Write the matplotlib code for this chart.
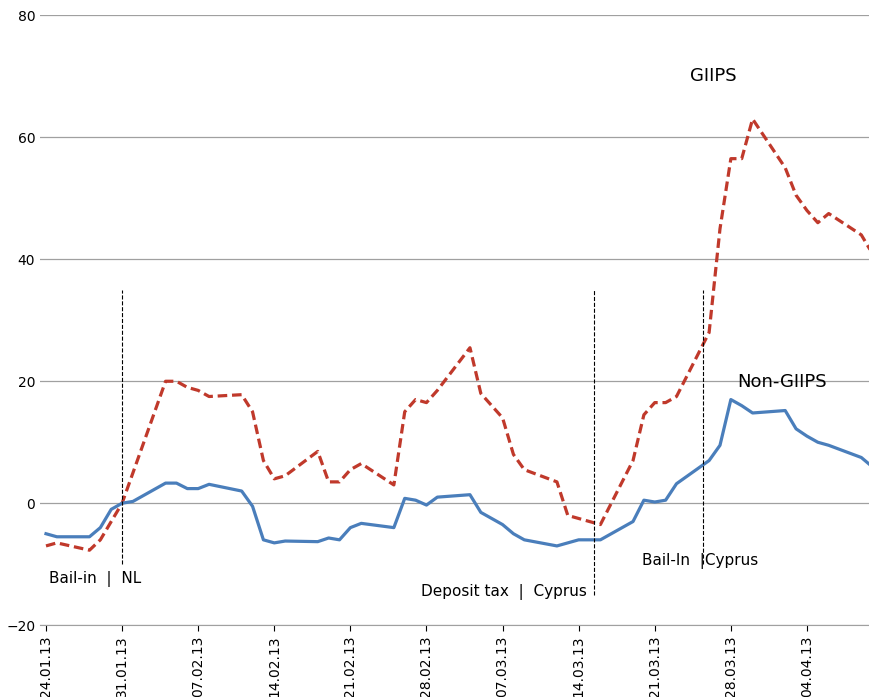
import numpy as np
import pandas as pd
import matplotlib.pyplot as plt
import matplotlib.dates as mdates

start = pd.Timestamp("2013-01-24")

# day offsets from 24.01.13
days = [0, 1, 4, 5, 6, 7, 8, 11, 12, 13, 14, 15, 18, 19, 20, 21, 22, 25, 26, 27, 28, 29,
        32, 33, 34, 35, 36, 39, 40, 42, 43, 44, 47, 48, 49, 50, 51, 54, 55, 56, 57, 58,
        61, 62, 63, 64, 65, 68, 69, 70, 71, 72, 75, 76]

giips = [-7, -6.5, -7.7, -6, -3, 0, 5, 20, 20, 19, 18.5, 17.5, 17.8, 15, 7, 4, 4.5, 8.5,
         3.5, 3.5, 5.5, 6.5, 3, 15, 17, 16.5, 18.5, 25.5, 18, 14, 8, 5.5, 3.5, -2, -2.5,
         -3, -3.5, 7, 14.5, 16.5, 16.5, 17.5, 28, 45, 56.5, 56.5, 63, 55, 50.5, 48, 46,
         47.5, 44, 41]

non_giips = [-5, -5.5, -5.5, -4, -1, 0, 0.3, 3.3, 3.3, 2.4, 2.4, 3.1, 2.0, -0.5, -6, -6.5,
             -6.2, -6.3, -5.7, -6, -4, -3.3, -4, 0.8, 0.5, -0.3, 1, 1.4, -1.5, -3.5, -5,
             -6, -7, -6.5, -6, -6, -6, -3, 0.5, 0.2, 0.5, 3.2, 7, 9.5, 17, 16, 14.8, 15.2,
             12.2, 11, 10, 9.5, 7.5, 6]

dates = [start + pd.Timedelta(days=d) for d in days]

# event day offsets and dashed line extents
events = [(7, -10, 35), (50.4, -15, 35), (60.4, -10, 35)]


def day(d):
    return start + pd.Timedelta(days=d)


fig = plt.figure(figsize=(8.7, 6.97), dpi=100)
ax = fig.add_axes([0.046, 0.103, 0.954, 0.875])

ax.plot(dates, giips, color="#c0392b", linestyle=(0, (3, 1.5)), linewidth=2.3)
ax.plot(dates, non_giips, color="#4a7ebb", linewidth=2.3)

for d, y0, y1 in events:
    ax.plot([day(d)] * 2, [y0, y1], color="black", linestyle="--", linewidth=0.8)

ax.text(day(0.3), -12.5, "Bail-in  |  NL", fontsize=11, va="center")
ax.text(day(42.1), -14.5, "Deposit tax  |  Cyprus", fontsize=11, va="center", ha="center")
ax.text(day(54.8), -9.5, "Bail-In  |Cyprus", fontsize=11, va="center")
ax.text(day(59.2), 70, "GIIPS", fontsize=13, va="center")
ax.text(day(63.6), 19.8, "Non-GIIPS", fontsize=13, va="center")

ax.set_ylim(-20, 80)
ax.set_yticks(range(-20, 81, 20))
ax.set_xlim(day(-0.55), day(75.8))
ax.set_xticks([day(7 * i) for i in range(11)])
ax.xaxis.set_major_formatter(mdates.DateFormatter("%d.%m.%y"))
plt.setp(ax.get_xticklabels(), rotation=90)
ax.tick_params(axis="both", length=0, labelsize=10)
ax.tick_params(axis="x", length=4, direction="out")

ax.grid(axis="y", color="#a0a0a0", linewidth=0.9)
for s in ["top", "right", "left"]:
    ax.spines[s].set_visible(False)
ax.spines["bottom"].set_color("#a0a0a0")

fig.savefig("out.png", dpi=100)
